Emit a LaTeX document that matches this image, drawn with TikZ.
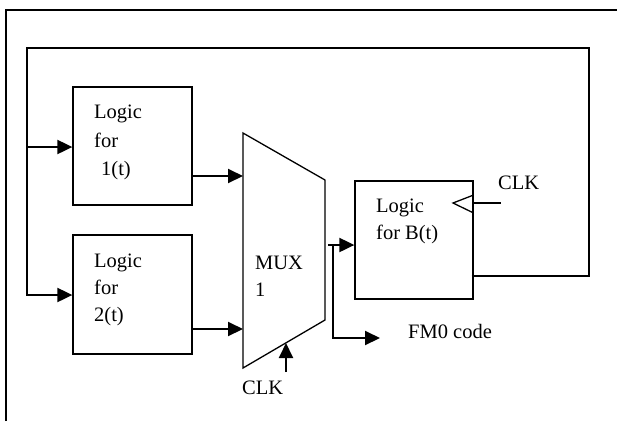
\documentclass[tikz,border=0pt]{standalone}
\usepackage{fontspec}
\setmainfont{Liberation Serif}
\usetikzlibrary{arrows.meta}
\begin{document}
\begin{tikzpicture}[x=1pt,y=-1pt,
  wire/.style={line width=1.3pt},
  sig/.style={line width=2pt,-{Triangle[length=15pt,width=14pt]}},
  block/.style={draw,line width=1.3pt,inner sep=0pt},
  lbl/.style={anchor=base west,inner sep=0pt,font=\fontsize{20.5}{24}\selectfont}]
\useasboundingbox (0,0) rectangle (617,421);
% outer frame (open at right and bottom)
\draw[line width=2pt] (6,421) -- (6,10) -- (617,10);

% logic blocks
\node[block,minimum width=119pt,minimum height=118pt] (b1) at (132.5,146) {};
\node[block,minimum width=119pt,minimum height=119pt] (b2) at (132.5,294.5) {};
\node[block,minimum width=118pt,minimum height=118pt] (bB) at (414,240) {};

% multiplexer
\coordinate (mtl) at (243,133);
\coordinate (mtr) at (325,180);
\coordinate (mbr) at (325,320);
\coordinate (mbl) at (243,368);
\draw[wire,line join=miter] (mtl) -- (mtr) -- (mbr) -- (mbl) -- cycle;

% labels
\node[lbl] (t1a) at (94,118) {Logic};
\node[lbl] (t1b) at (94,147) {for};
\node[lbl] (t1c) at (101,175) {1(t)};
\node[lbl] (t2a) at (94,267) {Logic};
\node[lbl] (t2b) at (94,294) {for};
\node[lbl] (t2c) at (94,321) {2(t)};
\node[lbl] (tm1) at (255,269) {MUX};
\node[lbl] (tm2) at (255,296) {1};
\node[lbl] (tB1) at (376,212) {Logic};
\node[lbl] (tB2) at (376,239) {for B(t)};
\node[lbl] (clkR) at (498,189) {CLK};
\node[lbl] (clkM) at (242,394) {CLK};
\node[lbl] (fm0) at (408,338) {FM0 code};

% feedback loop from B(t) back to both logic blocks
\coordinate (lo) at (bB.east |- 0,276);
\coordinate (lr) at (589,276);
\coordinate (lrt) at (589,48);
\coordinate (llt) at (27,48);
\coordinate (ll1) at (27,147);
\coordinate (ll2) at (27,295);
\draw[wire] ([xshift=-2pt]lo) -- (lr) -- (lrt) -- (llt) -- (ll2);
\draw[sig] (ll1) -- (b1.west |- ll1);
\draw[sig] ([xshift=-0.6pt]ll2) -- (b2.west |- ll2);

% block outputs into the multiplexer
\coordinate (o1) at (b1.east |- 0,176);
\coordinate (o2) at (b2.east |- 0,329);
\draw[sig] (o1) -- (mtl |- o1);
\draw[sig] (o2) -- (mbl |- o2);

% multiplexer output to B(t) and to the FM0 code output
\coordinate (mo) at (328,245);
\coordinate (tj) at (333,245);
\coordinate (fj) at (333,338);
\coordinate (fo) at (380,338);
\draw[sig] (mo) -- (bB.west |- mo);
\draw[line width=2pt] (tj) -- (fj);
\draw[sig] ([xshift=-1pt]fj) -- (fo);

% clock input of the multiplexer
\coordinate (mc0) at (286,372);
\coordinate (mc1) at (286,343);
\draw[sig] (mc0) -- (mc1);

% clock input of B(t)
\coordinate (ck1) at (bB.east |- 0,195);
\coordinate (ck2) at (453,203);
\coordinate (ck3) at (bB.east |- 0,213);
\coordinate (ck4) at (501,203);
\draw[wire] (ck1) -- (ck2) -- (ck3);
\draw[line width=1.6pt] (bB.east |- ck2) -- (ck4);
\end{tikzpicture}
\end{document}
